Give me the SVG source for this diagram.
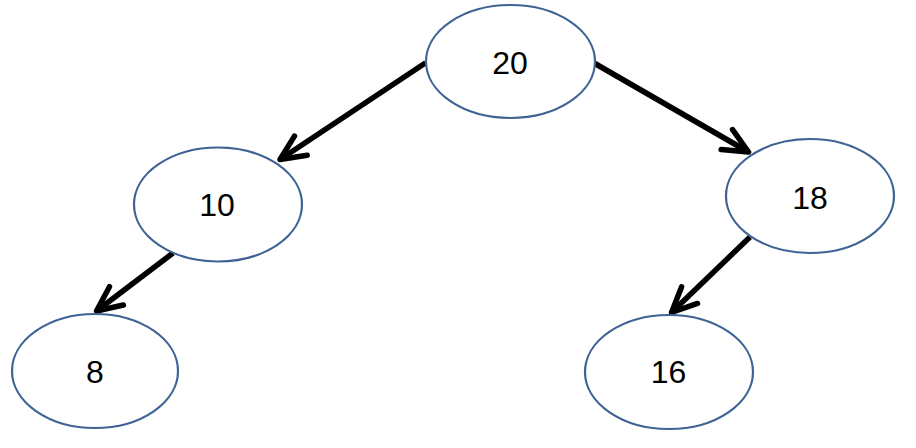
<svg xmlns="http://www.w3.org/2000/svg" width="916" height="448" viewBox="0 0 916 448">
<defs>
<style>
.node ellipse{fill:#ffffff;stroke:#3E6394;stroke-width:2.2}
.node text{font-family:"Liberation Sans",Arial,sans-serif;font-size:32px;fill:#000;text-anchor:middle}
.edge{stroke:#000;stroke-width:5.5;fill:none;marker-end:url(#arr)}
</style>
<marker id="arr" markerUnits="userSpaceOnUse" viewBox="-30 -16 34 32" markerWidth="34" markerHeight="32" refX="0" refY="0" orient="auto">
<path d="M-25,-11.5 L0,0 L-25,11.5" fill="none" stroke="#000" stroke-width="5.5" stroke-linecap="round" stroke-linejoin="round"/>
</marker>
</defs>
<rect width="916" height="448" fill="#ffffff"/>
<g id="connectors">
<line class="edge" x1="425.7" y1="62.7" x2="280" y2="159.5"/>
<line class="edge" x1="594" y1="63" x2="748.5" y2="152"/>
<line class="edge" x1="173" y1="253" x2="96.5" y2="311"/>
<line class="edge" x1="750" y1="237" x2="671.5" y2="312.5"/>
</g>
<g id="n20" class="node"><ellipse cx="510.5" cy="61.5" rx="84.5" ry="56.5"/><text x="510" y="74">20</text></g>
<g id="n10" class="node"><ellipse cx="218" cy="204.5" rx="84" ry="57"/><text x="217" y="216">10</text></g>
<g id="n18" class="node"><ellipse cx="810" cy="196" rx="84" ry="57"/><text x="810" y="208.5">18</text></g>
<g id="n8" class="node"><ellipse cx="95" cy="371" rx="83" ry="57"/><text x="95" y="382.5">8</text></g>
<g id="n16" class="node"><ellipse cx="669" cy="372" rx="84" ry="57"/><text x="668.5" y="382.5">16</text></g>
</svg>
